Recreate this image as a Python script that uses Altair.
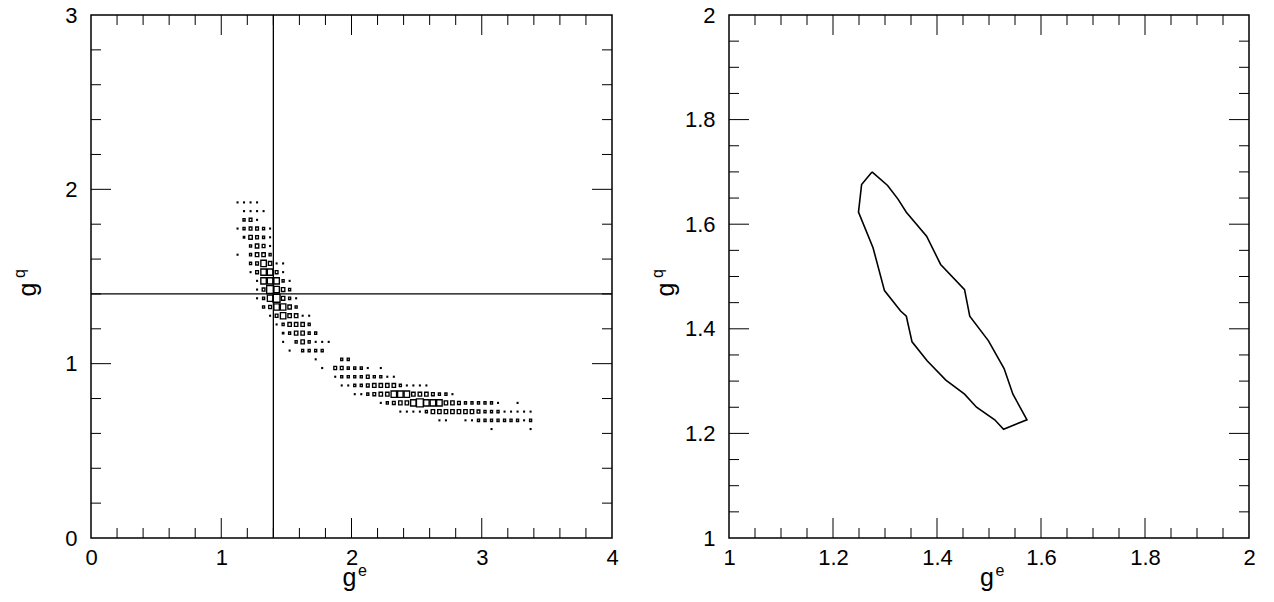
import altair as alt
import pandas as pd

FONT = "Liberation Sans"

# ---------------- left panel: 2D histogram of (g^e, g^q), bin 0.05 x 0.05 ----------------
# one entry per row of bins: g^q bin centre, g^e bin centres, box weights
row_gq = [1.925, 1.875, 1.825, 1.775, 1.725, 1.675, 1.625, 1.575, 1.525, 1.475,
          1.425, 1.375, 1.325, 1.275, 1.225, 1.175, 1.125, 1.075, 1.025, 0.975,
          0.925, 0.875, 0.825, 0.775, 0.725, 0.675, 0.625]
row_ge = [
    [1.125, 1.175, 1.225, 1.275],
    [1.175, 1.225, 1.275, 1.325],
    [1.175, 1.225, 1.275],
    [1.125, 1.175, 1.225, 1.275, 1.325, 1.375],
    [1.175, 1.225, 1.275, 1.325, 1.375],
    [1.225, 1.275, 1.325, 1.375],
    [1.125, 1.225, 1.275, 1.325, 1.375],
    [1.225, 1.275, 1.325, 1.375, 1.425, 1.475],
    [1.225, 1.275, 1.325, 1.375, 1.425, 1.475],
    [1.275, 1.325, 1.375, 1.425, 1.475, 1.525],
    [1.275, 1.325, 1.375, 1.425, 1.475, 1.525],
    [1.275, 1.325, 1.375, 1.425, 1.475, 1.525, 1.575],
    [1.325, 1.375, 1.425, 1.475, 1.525, 1.575],
    [1.375, 1.425, 1.475, 1.525, 1.575, 1.625, 1.675],
    [1.425, 1.475, 1.525, 1.575, 1.625, 1.675],
    [1.475, 1.525, 1.575, 1.625, 1.675, 1.725],
    [1.475, 1.575, 1.625, 1.675, 1.725, 1.775, 1.825],
    [1.525, 1.625, 1.675, 1.725, 1.775],
    [1.725, 1.925, 1.975],
    [1.775, 1.875, 1.925, 1.975, 2.025, 2.075, 2.125, 2.225],
    [1.875, 1.925, 1.975, 2.025, 2.075, 2.125, 2.175, 2.225, 2.275, 2.325],
    [1.925, 1.975, 2.025, 2.075, 2.125, 2.175, 2.225, 2.275, 2.325, 2.375,
     2.425, 2.475, 2.525, 2.575],
    [2.025, 2.075, 2.125, 2.175, 2.225, 2.275, 2.325, 2.375, 2.425, 2.475,
     2.525, 2.575, 2.625, 2.675, 2.725, 2.775],
    [2.225, 2.275, 2.325, 2.375, 2.425, 2.475, 2.525, 2.575, 2.625, 2.675,
     2.725, 2.775, 2.825, 2.875, 2.925, 2.975, 3.025, 3.075, 3.125, 3.275],
    [2.375, 2.425, 2.475, 2.525, 2.575, 2.625, 2.675, 2.725, 2.775, 2.825,
     2.875, 2.925, 2.975, 3.025, 3.075, 3.125, 3.175, 3.225, 3.275, 3.325, 3.375],
    [2.675, 2.725, 2.875, 2.925, 2.975, 3.025, 3.075, 3.125, 3.175, 3.225,
     3.275, 3.325, 3.375],
    [3.075, 3.375],
]
row_w = [
    [1, 1, 1, 1],
    [1, 1, 1, 1],
    [3, 4, 1],
    [1, 3, 4, 4, 3, 1],
    [2, 5, 4, 3, 1],
    [3, 5, 4, 1],
    [1, 3, 5, 5, 3],
    [3, 4, 8, 5, 1, 1],
    [1, 4, 8, 8, 4, 1],
    [1, 8, 8, 8, 3, 1],
    [1, 4, 10, 8, 5, 3],
    [1, 3, 8, 10, 5, 3, 1],
    [3, 4, 8, 8, 5, 3],
    [1, 4, 8, 5, 5, 1, 1],
    [1, 3, 5, 5, 5, 3],
    [2, 3, 5, 5, 3, 3],
    [1, 3, 5, 3, 1, 1, 1],
    [1, 3, 3, 3, 3],
    [1, 3, 3],
    [1, 4, 4, 3, 3, 3, 1, 1],
    [1, 3, 3, 3, 3, 4, 3, 3, 1, 1],
    [1, 1, 3, 3, 4, 5, 5, 5, 5, 3, 1, 1, 1, 1],
    [1, 1, 3, 4, 5, 5, 8, 8, 8, 5, 5, 5, 4, 3, 3, 1],
    [1, 3, 4, 5, 5, 8, 10, 8, 8, 8, 5, 5, 4, 3, 3, 3, 3, 3, 1, 1],
    [1, 1, 1, 1, 3, 5, 5, 5, 5, 5, 5, 5, 4, 3, 3, 3, 1, 1, 1, 1, 1],
    [1, 1, 1, 1, 3, 3, 3, 3, 3, 3, 3, 1, 3],
    [1, 1],
]
W_SCALE = 9.5
BIN = 0.05

ref_ge = [1.4]
ref_gq = [1.4]

# ---------------- right panel: closed contour ----------------
cont_ge = [1.275, 1.305, 1.325, 1.341, 1.380, 1.407, 1.453, 1.463, 1.499, 1.529,
           1.546, 1.573, 1.528, 1.511, 1.476, 1.453, 1.417, 1.381, 1.352, 1.341,
           1.330, 1.299, 1.277, 1.249, 1.255, 1.275]
cont_gq = [1.700, 1.674, 1.648, 1.623, 1.577, 1.523, 1.475, 1.424, 1.377, 1.324,
           1.275, 1.226, 1.208, 1.226, 1.250, 1.275, 1.302, 1.339, 1.375, 1.424,
           1.434, 1.473, 1.555, 1.623, 1.676, 1.700]

# ---------------- axes ----------------
L_x_labels = [0, 1, 2, 3, 4]
L_y_labels = [0, 1, 2, 3]
L_x_major = [1, 2, 3]
L_x_minor = [0.2, 0.4, 0.6, 0.8, 1.2, 1.4, 1.6, 1.8, 2.2, 2.4, 2.6, 2.8, 3.2, 3.4, 3.6, 3.8]
L_y_major = [1, 2]
L_y_minor = [0.2, 0.4, 0.6, 0.8, 1.2, 1.4, 1.6, 1.8, 2.2, 2.4, 2.6, 2.8]
R_labels = [1, 1.2, 1.4, 1.6, 1.8, 2]
R_major = [1.2, 1.4, 1.6, 1.8]
R_minor = [1.05, 1.1, 1.15, 1.25, 1.3, 1.35, 1.45, 1.5, 1.55, 1.65, 1.7, 1.75,
           1.85, 1.9, 1.95]

W_L, W_R, H = 521, 520, 523
MAJ, MIN = 20, 10

box_rows = []
for gq, ges, ws in zip(row_gq, row_ge, row_w):
    for ge, w in zip(ges, ws):
        box_rows.append({"ge": ge, "gq": gq, "w": w})
boxes = pd.DataFrame(box_rows)


def axis(values, fmt, pad):
    return alt.Axis(values=values, format=fmt, ticks=False, domain=False, grid=False,
                    labelFont=FONT, labelFontSize=22, labelColor="black",
                    labelFlush=False, labelOverlap=False, labelPadding=pad, title=None)


def tick_layers(xs, ys, xax, yax, xmaj, xmin, ymaj, ymin, W):
    out = []
    for vals, ln in [(xmaj, MAJ), (xmin, MIN)]:
        base = alt.Chart(pd.DataFrame({"v": vals})).mark_rule(color="black", strokeWidth=1)
        out.append(base.encode(x=alt.X("v:Q", scale=xs, axis=xax),
                               y=alt.value(H), y2=alt.value(H - ln)))
        out.append(base.encode(x=alt.X("v:Q", scale=xs, axis=xax),
                               y=alt.value(0), y2=alt.value(ln)))
    for vals, ln in [(ymaj, MAJ), (ymin, MIN)]:
        base = alt.Chart(pd.DataFrame({"v": vals})).mark_rule(color="black", strokeWidth=1)
        out.append(base.encode(y=alt.Y("v:Q", scale=ys, axis=yax),
                               x=alt.value(0), x2=alt.value(ln)))
        out.append(base.encode(y=alt.Y("v:Q", scale=ys, axis=yax),
                               x=alt.value(W), x2=alt.value(W - ln)))
    return out


def title_layers(W, sup_x, sup_y):
    one = pd.DataFrame({"a": [0]})
    t = []
    t.append(alt.Chart(one).mark_text(text="g", font=FONT, fontSize=25, color="black",
                                      baseline="alphabetic", align="center")
             .encode(x=alt.value(W / 2 - 2), y=alt.value(H + 48)))
    t.append(alt.Chart(one).mark_text(text=sup_x, font=FONT, fontSize=16, color="black",
                                      baseline="alphabetic", align="center")
             .encode(x=alt.value(W / 2 + 11), y=alt.value(H + 38)))
    t.append(alt.Chart(one).mark_text(text="g", font=FONT, fontSize=25, color="black",
                                      baseline="alphabetic", align="center", angle=270)
             .encode(x=alt.value(-55), y=alt.value(H / 2 + 13)))
    t.append(alt.Chart(one).mark_text(text=sup_y, font=FONT, fontSize=16, color="black",
                                      baseline="alphabetic", align="center", angle=270)
             .encode(x=alt.value(-66), y=alt.value(H / 2 - 3)))
    return t


# ----- left panel -----
xsL = alt.Scale(domain=[0, 4], nice=False, zero=False)
ysL = alt.Scale(domain=[0, 3], nice=False, zero=False)
xaxL = axis(L_x_labels, "d", 9)
yaxL = axis(L_y_labels, "d", 14)

box_layer = alt.Chart(boxes).transform_calculate(
    f="datum.w / %f" % W_SCALE
).transform_calculate(
    x1="datum.ge - %f * datum.f" % (BIN / 2),
    x2="datum.ge + %f * datum.f" % (BIN / 2),
    y1="datum.gq - %f * datum.f" % (0.86 * BIN / 2),
    y2="datum.gq + %f * datum.f" % (0.86 * BIN / 2),
).mark_rect(filled=False, stroke="black", strokeWidth=1.35).encode(
    x=alt.X("x1:Q", scale=xsL, axis=xaxL),
    x2="x2:Q",
    y=alt.Y("y1:Q", scale=ysL, axis=yaxL),
    y2="y2:Q",
)

vline = alt.Chart(pd.DataFrame({"v": ref_ge})).mark_rule(color="black", strokeWidth=1.3).encode(
    x=alt.X("v:Q", scale=xsL, axis=xaxL), y=alt.value(0), y2=alt.value(H))
hline = alt.Chart(pd.DataFrame({"v": ref_gq})).mark_rule(color="black", strokeWidth=1.3).encode(
    y=alt.Y("v:Q", scale=ysL, axis=yaxL), x=alt.value(0), x2=alt.value(W_L))

left = alt.layer(
    box_layer, vline, hline,
    *tick_layers(xsL, ysL, xaxL, yaxL, L_x_major, L_x_minor, L_y_major, L_y_minor, W_L),
    *title_layers(W_L, "e", "q"),
).properties(width=W_L, height=H)

# ----- right panel -----
xsR = alt.Scale(domain=[1, 2], nice=False, zero=False)
ysR = alt.Scale(domain=[1, 2], nice=False, zero=False)
xaxR = axis(R_labels, ".1~f", 9)
yaxR = axis(R_labels, ".1~f", 14)

cont = pd.DataFrame({"ge": cont_ge, "gq": cont_gq, "i": list(range(len(cont_ge)))})
cont_layer = alt.Chart(cont).mark_line(color="black", strokeWidth=1.6).encode(
    x=alt.X("ge:Q", scale=xsR, axis=xaxR),
    y=alt.Y("gq:Q", scale=ysR, axis=yaxR),
    order="i:Q",
)

right = alt.layer(
    cont_layer,
    *tick_layers(xsR, ysR, xaxR, yaxR, R_major, R_minor, R_major, R_minor, W_R),
    *title_layers(W_R, "e", "q"),
).properties(width=W_R, height=H)

chart = alt.hconcat(left, right, spacing=30).configure_view(
    stroke="black", strokeWidth=1.5
).properties(
    padding={"left": 11, "top": 3, "right": 5, "bottom": 5},
    background="white",
)

chart.save("out.html", embed_options={"renderer": "svg", "actions": False})
